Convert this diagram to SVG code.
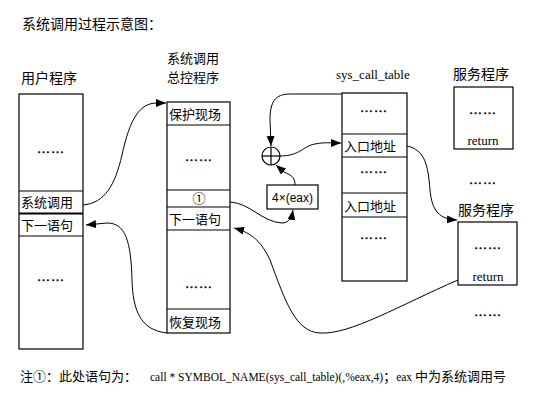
<svg xmlns="http://www.w3.org/2000/svg" width="545" height="407" viewBox="0 0 545 407">
<style>
.bx{fill:#fff;stroke:#000;stroke-width:1.2}
.ln{stroke:#000;stroke-width:1.2;fill:none}
.cn{stroke:#000;stroke-width:1;fill:none;marker-end:url(#ah)}
.cj{font-family:"Noto Sans CJK SC","Noto Sans CJK JP",sans-serif;font-size:13px;fill:#000}
.lb{font-family:"Noto Sans CJK SC","Noto Sans CJK JP",sans-serif;font-size:14px;fill:#000}
.dt{font-family:"Liberation Serif",serif;font-size:13px;fill:#000;stroke:#000;stroke-width:0.5;text-anchor:middle;letter-spacing:1px}
.sf{font-family:"Liberation Serif",serif;font-size:13px;fill:#000}
.ss{font-family:"Liberation Sans",sans-serif;font-size:12px;fill:#000}
</style>
<defs>
<marker id="ah" markerWidth="11" markerHeight="9" refX="10" refY="4" orient="auto" markerUnits="userSpaceOnUse">
<path d="M0,0 L10,4 L0,8 z" fill="#000"/>
</marker>
</defs>
<rect width="545" height="407" fill="#fff"/>
<text class="lb" x="22" y="29">系统调用过程示意图：</text>

<g id="user">
<text class="lb" x="21" y="83">用户程序</text>
<rect class="bx" x="19" y="94" width="64" height="255"/>
<line class="ln" x1="19" y1="191" x2="83" y2="191"/>
<line class="ln" x1="19" y1="213.5" x2="83" y2="213.5" style="stroke-width:2.2"/>
<line class="ln" x1="19" y1="236" x2="83" y2="236"/>
<text class="dt" x="51" y="153">……</text>
<text class="cj" x="21" y="207">系统调用</text>
<text class="cj" x="21" y="230">下一语句</text>
<text class="dt" x="51" y="281">……</text>
</g>

<g id="control">
<text class="cj" x="167" y="63">系统调用</text>
<text class="cj" x="167" y="82">总控程序</text>
<rect class="bx" x="167" y="102" width="63" height="231"/>
<line class="ln" x1="167" y1="125" x2="230" y2="125"/>
<line class="ln" x1="167" y1="190" x2="230" y2="190"/>
<line class="ln" x1="167" y1="207" x2="230" y2="207"/>
<line class="ln" x1="167" y1="230" x2="230" y2="230"/>
<line class="ln" x1="167" y1="309" x2="230" y2="309"/>
<text class="cj" x="169" y="119">保护现场</text>
<text class="dt" x="199" y="161">……</text>
<text class="cj" x="199" y="203" text-anchor="middle">①</text>
<text class="cj" x="169" y="224">下一语句</text>
<text class="dt" x="199" y="288">……</text>
<text class="cj" x="169" y="327">恢复现场</text>
</g>

<g id="adder">
<circle class="ln" cx="271" cy="156" r="9"/>
<line class="ln" x1="262" y1="156" x2="280" y2="156"/>
<line class="ln" x1="271" y1="147" x2="271" y2="165"/>
</g>

<g id="offset">
<rect class="bx" x="267" y="185" width="51" height="24"/>
<text class="ss" x="292.5" y="202" text-anchor="middle">4×(eax)</text>
</g>

<g id="table">
<text class="sf" x="336" y="79">sys_call_table</text>
<rect class="bx" x="342" y="93" width="65" height="188"/>
<line class="ln" x1="342" y1="134" x2="407" y2="134"/>
<line class="ln" x1="342" y1="157" x2="407" y2="157"/>
<line class="ln" x1="342" y1="193" x2="407" y2="193"/>
<line class="ln" x1="342" y1="217" x2="407" y2="217"/>
<text class="dt" x="374" y="112">……</text>
<text class="cj" x="344" y="151">入口地址</text>
<text class="dt" x="374" y="173">……</text>
<text class="cj" x="344" y="211">入口地址</text>
<text class="dt" x="374" y="239">……</text>
</g>

<g id="service1">
<text class="lb" x="453" y="79">服务程序</text>
<rect class="bx" x="454" y="87" width="59" height="62"/>
<text class="dt" x="483" y="114">……</text>
<text class="sf" x="483" y="145" text-anchor="middle">return</text>
</g>
<text class="dt" x="483" y="184">……</text>

<g id="service2">
<text class="lb" x="458" y="215">服务程序</text>
<rect class="bx" x="458" y="222" width="59" height="63"/>
<text class="dt" x="488" y="249">……</text>
<text class="sf" x="488" y="281" text-anchor="middle">return</text>
</g>
<text class="dt" x="488" y="316">……</text>

<g id="connectors">
<path class="cn" d="M83,205 C105,203 115,185 122,155 C130,118 140,103 157,103 L166,103"/>
<path class="cn" d="M167,333 C140,330 133,310 132,280 C131,240 125,223 107,223 L86,225"/>
<path class="cn" d="M230,202 C250,203 262,222 282,223 C290,223 292,216 293,210"/>
<path class="cn" d="M295,185 C295,176 290,175 284,172 L276,165"/>
<path class="cn" d="M342,94 L290,94 C275,94 270,102 270,120 L271,146"/>
<path class="cn" d="M280,156 C300,156 303,146 315,144 C325,142 330,143 341,143"/>
<path class="cn" d="M407,146 C425,150 428,165 430,190 C432,212 440,219 457,220"/>
<path class="cn" d="M458,280 C400,305 350,335 320,333 C295,332 285,300 270,260 C260,238 248,232 234,228"/>
</g>

<text x="20" y="381"><tspan class="cj" style="font-size:13px">注①：此处语句为：</tspan><tspan class="sf" style="font-size:11.5px" x="150">call * SYMBOL_NAME(sys_call_table)(,%eax,4)</tspan><tspan class="cj" style="font-size:13px">；</tspan><tspan class="sf" style="font-size:11.5px">eax </tspan><tspan class="cj" style="font-size:13px">中为系统调用号</tspan></text>
</svg>
